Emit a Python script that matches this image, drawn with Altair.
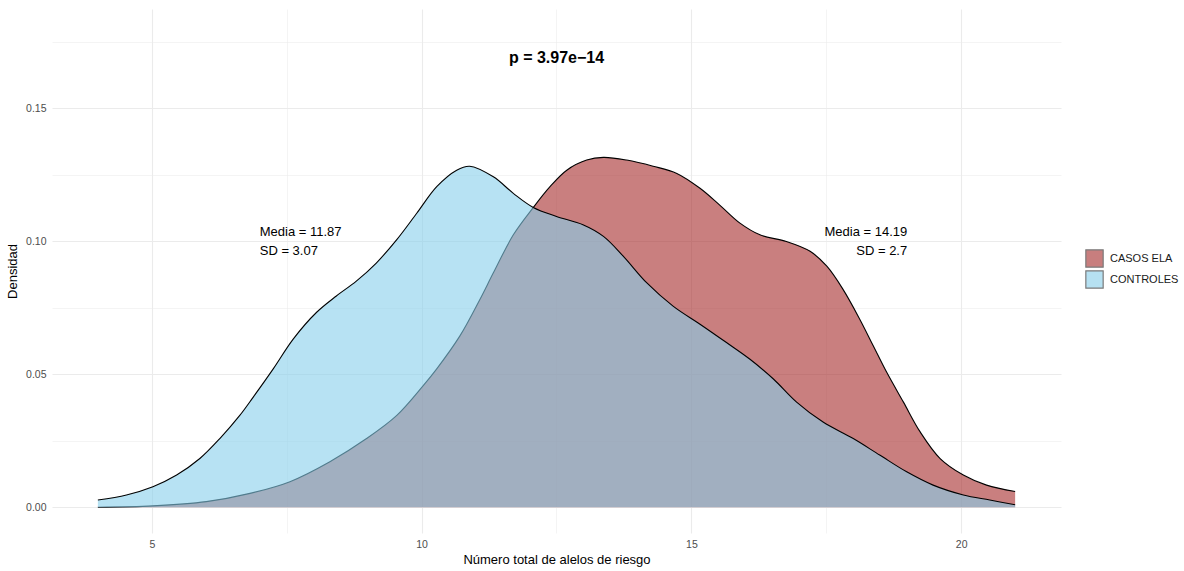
import altair as alt
import pandas as pd

# CONTROLES density curve
ctrl_x = [4.0, 4.53, 5.02, 5.46, 5.89, 6.26, 6.63, 6.88, 7.25, 7.62, 8.05, 8.42, 8.79, 9.16, 9.54,
          9.91, 10.28, 10.65, 10.89, 11.33, 11.70, 12.07, 12.50, 12.99, 13.37, 13.74, 14.17, 14.66,
          15.16, 15.65, 16.08, 16.52, 16.95, 17.44, 18.0, 18.49, 18.99, 19.48, 20.04, 20.53, 21.0]
ctrl_y = [0.0027, 0.0046, 0.0077, 0.0121, 0.0183, 0.0258, 0.0345, 0.0414, 0.052, 0.0632, 0.0732,
          0.0794, 0.085, 0.0918, 0.1006, 0.1105, 0.1205, 0.1267, 0.1282, 0.1242, 0.118, 0.1127,
          0.1093, 0.1062, 0.1018, 0.0943, 0.0844, 0.0756, 0.0688, 0.0619, 0.0557, 0.0482, 0.0395,
          0.032, 0.0258, 0.0196, 0.0133, 0.0083, 0.0046, 0.0027, 0.0009]

# CASOS ELA density curve
ela_x = [4.0, 5.02, 6.01, 6.82, 7.56, 8.30, 8.98, 9.54, 10.03, 10.28, 10.71, 11.08, 11.33, 11.70,
         12.07, 12.38, 12.69, 13.06, 13.37, 13.80, 14.29, 14.73, 15.16, 15.53, 15.90, 16.27, 16.76,
         17.20, 17.51, 17.81, 18.12, 18.37, 18.62, 18.93, 19.24, 19.61, 20.04, 20.47, 21.0]
ela_y = [0.0, 0.0005, 0.0021, 0.0052, 0.0096, 0.0171, 0.0258, 0.0345, 0.0457, 0.052, 0.0644, 0.0781,
         0.0881, 0.1024, 0.1127, 0.1205, 0.1267, 0.1305, 0.1315, 0.1305, 0.1282, 0.1255, 0.1199,
         0.1135, 0.1068, 0.1024, 0.0999, 0.0962, 0.0906, 0.0819, 0.0707, 0.0607, 0.0507, 0.0395,
         0.0283, 0.0183, 0.0121, 0.0083, 0.0059]

groups = ["CASOS ELA", "CONTROLES"]
fill_colors = ["#A52A2A", "#87CEEB"]

ann_left_x = [7.0]
ann_left_y = [0.10]
ann_left_text = ["Media = 11.87\nSD = 3.07"]
ann_right_x = [19.0]
ann_right_y = [0.10]
ann_right_text = ["Media = 14.19\nSD = 2.7"]
p_x = [12.5]
p_y = [0.169]
p_text = ["p = 3.97e\u221214"]

x_ticks = [5, 7.5, 10, 12.5, 15, 17.5, 20]
y_ticks = [0, 0.025, 0.05, 0.075, 0.10, 0.125, 0.15, 0.175]

rows = []
for x, y in zip(ela_x, ela_y):
    rows.append({"x": x, "y": y, "grupo": groups[0]})
for x, y in zip(ctrl_x, ctrl_y):
    rows.append({"x": x, "y": y, "grupo": groups[1]})
df = pd.DataFrame(rows)

FONT = "Liberation Sans"
INTERP = "catmull-rom"

x_scale = alt.Scale(domain=[3.15, 21.85], nice=False, zero=False)
y_scale = alt.Scale(domain=[-0.0097, 0.1873], nice=False, zero=False)

x_enc = alt.X("x:Q", scale=x_scale, title="Número total de alelos de riesgo",
              axis=alt.Axis(values=x_ticks, ticks=False, domain=False,
                            labelExpr="datum.value % 5 == 0 ? format(datum.value, 'd') : ''",
                            gridColor="#EBEBEB",
                            gridWidth={"condition": {"test": "datum.value % 5 == 0", "value": 1.1}, "value": 0.55},
                            labelPadding=6, titlePadding=4))
y_enc = alt.Y("y:Q", scale=y_scale, title="Densidad",
              axis=alt.Axis(values=y_ticks, ticks=False, domain=False,
                            labelExpr="round(datum.value*1000) % 50 == 0 ? format(datum.value, '.2f') : ''",
                            gridColor="#EBEBEB",
                            gridWidth={"condition": {"test": "round(datum.value*1000) % 50 == 0", "value": 1.1}, "value": 0.55},
                            labelPadding=6, titlePadding=6))

fill_enc = alt.Fill("grupo:N", scale=alt.Scale(domain=groups, range=fill_colors),
                    legend=alt.Legend(title=None, orient="none", legendX=1033, legendY=240,
                                      symbolType="square", symbolSize=300, symbolOpacity=0.6,
                                      symbolStrokeColor="#222222", symbolStrokeWidth=1.2,
                                      rowPadding=-4, labelFontSize=11, labelFont=FONT,
                                      labelColor="#1A1A1A", labelOffset=6))

layers = []
for g in groups:
    area = alt.Chart(df).transform_filter(alt.datum.grupo == g).mark_area(
        interpolate=INTERP, fillOpacity=0.6).encode(x=x_enc, y=y_enc, fill=fill_enc)
    line = alt.Chart(df).transform_filter(alt.datum.grupo == g).mark_line(
        interpolate=INTERP, color="black", strokeWidth=1.1).encode(x="x:Q", y="y:Q")
    layers += [area, line]

left_txt = alt.Chart(pd.DataFrame({"x": ann_left_x, "y": ann_left_y, "t": ann_left_text})).mark_text(
    align="left", baseline="middle", lineBreak="\n", fontSize=13, font=FONT, lineHeight=18.5,
    dy=-9, color="black"
).encode(x="x:Q", y="y:Q", text="t:N")
right_txt = alt.Chart(pd.DataFrame({"x": ann_right_x, "y": ann_right_y, "t": ann_right_text})).mark_text(
    align="right", baseline="middle", lineBreak="\n", fontSize=13, font=FONT, lineHeight=18.5,
    dy=-9, color="black"
).encode(x="x:Q", y="y:Q", text="t:N")
p_txt = alt.Chart(pd.DataFrame({"x": p_x, "y": p_y, "t": p_text})).mark_text(
    align="center", baseline="middle", fontSize=16, fontWeight="bold", font=FONT, color="black"
).encode(x="x:Q", y="y:Q", text="t:N")

chart = alt.layer(*layers, left_txt, right_txt, p_txt).properties(
    width=1009, height=524,
    autosize=alt.AutoSizeParams(type="none"),
    padding={"left": 52, "top": 9, "right": 123, "bottom": 38},
    background="white",
).configure_view(stroke=None).configure_axis(
    labelFont=FONT, titleFont=FONT, labelFontSize=10.5, titleFontSize=13,
    labelColor="#4D4D4D", titleColor="black", titleFontWeight="normal"
)

chart.save("out.html", embed_options={"renderer": "svg", "actions": False})
